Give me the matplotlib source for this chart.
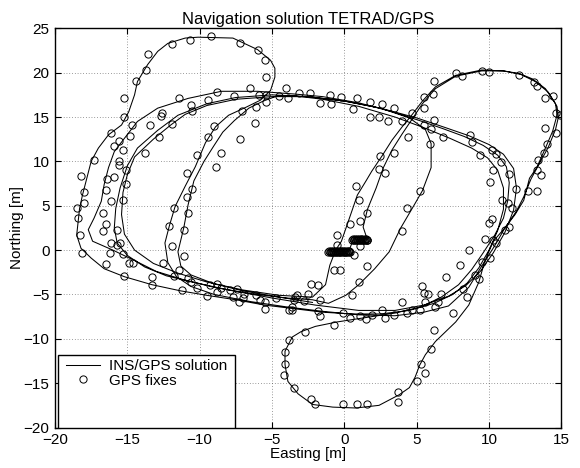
import numpy as np
import matplotlib
matplotlib.use('Agg')
from matplotlib import pyplot as plt
from matplotlib.patches import Rectangle

plt.rcParams['font.family'] = ['Liberation Sans', 'DejaVu Sans']

# INS/GPS solution in three legs [m]
leg1_e = [-1.0, -0.4, 0.3, 0.6, 1.1, 1.6, 1.3, 1.6, 2.2, 2.7,
          3.3, 4.0, 4.7, 5.4, 6.3, 7.7, 9.5, 11.0, 12.2, 13.2,
          14.1, 14.7, 14.8, 14.6, 14.1, 13.5, 12.9, 12.4, 11.9, 11.2,
          10.3, 9.7, 9.3, 8.6, 7.7, 6.3, 5.6, 5.2, 4.9, 4.5,
          3.8, 2.4, 0.8, -0.8, -2.2, -3.2, -3.9, -4.1, -4.1, -3.6,
          -3.0, -2.0, -0.5, 1.5, 3.5, 5.3, 6.7, 7.9, 8.8, 9.6,
          10.4, 11.0, 11.3, 11.4, 11.2, 10.6, 9.6, 8.3, 6.8, 5.2,
          3.3, 1.0, -1.5, -3.5, -6.0, -8.5, -10.8, -12.9, -14.3, -15.2,
          -15.9, -16.3, -16.6, -16.8, -17.3, -17.7, -17.4, -16.0, -14.1, -13.0,
          -11.2, -9.0, -6.5, -4.0, -2.2]
leg1_n = [-0.2, -0.2, -0.2, 1.15, 1.15, 1.15, 2.6, 4.6, 7.0, 9.3,
          11.3, 13.1, 14.8, 16.5, 18.2, 19.6, 20.2, 20.2, 19.8, 19.0,
          17.8, 16.2, 15.0, 13.6, 11.6, 9.8, 8.0, 6.0, 4.4, 2.7,
          1.0, -1.3, -3.6, -6.2, -8.1, -10.3, -11.8, -13.0, -14.3, -15.5,
          -16.3, -17.5, -17.8, -17.7, -17.4, -16.2, -14.8, -12.9, -11.4, -9.8,
          -9.2, -8.6, -8.1, -7.6, -7.1, -6.4, -5.3, -3.9, -2.2, -0.3,
          1.7, 3.6, 5.6, 7.6, 9.4, 10.7, 11.8, 12.8, 13.7, 14.6,
          15.6, 16.6, 17.3, 17.6, 17.9, 17.9, 17.1, 16.0, 14.5, 12.6,
          11.1, 9.3, 7.4, 5.5, 3.6, 2.3, 1.0, 0.0, -1.5, -2.4,
          -3.3, -4.2, -4.9, -5.4, -5.6]

leg2_e = [-1.1, 0.1, 1.0, 2.1, 3.1, 3.9, 4.8, 5.4, 6.0, 6.0,
          5.6, 4.5, 2.5, 0.0, -2.5, -5.0, -7.5, -9.5, -11.5, -12.9,
          -14.3, -15.0, -15.5, -15.8, -15.9, -15.7, -15.0, -13.8, -12.3, -10.5,
          -8.0, -5.0, -2.0, 1.0, 3.5, 5.5, 7.2, 8.4, 9.4, 10.3,
          11.1, 11.7, 11.9, 11.7, 11.0, 10.0, 8.6, 7.0, 5.0, 2.5,
          0.0, -2.5, -5.0, -7.5, -9.5, -11.0, -12.0, -13.2, -14.5, -15.0,
          -15.3, -15.4, -15.2, -14.5, -13.2, -11.5, -9.5, -7.0, -4.5, -2.2]
leg2_n = [-6.0, -5.1, -3.9, -2.1, -0.2, 2.5, 5.0, 6.7, 9.3, 12.0,
          13.6, 14.9, 16.0, 16.8, 17.3, 17.5, 17.2, 16.5, 15.2, 13.5,
          11.5, 9.5, 7.0, 4.7, 2.5, 0.8, -0.6, -1.9, -2.9, -3.6,
          -4.5, -5.4, -6.2, -6.8, -6.8, -6.2, -5.2, -4.0, -2.4, -0.3,
          2.0, 4.5, 7.0, 9.2, 10.8, 11.9, 12.9, 13.8, 14.9, 16.0,
          16.8, 17.3, 17.3, 17.0, 16.3, 15.3, 14.1, 12.5, 10.5, 8.5,
          6.5, 4.0, 1.8, 0.0, -1.5, -2.6, -3.6, -4.5, -5.1, -5.3]

leg3_e = [-1.3, -1.0, -0.6, -0.2, 0.1, 0.5, 0.9, 1.5, 1.9, 2.6,
          3.3, 4.0, 4.7, 5.4, 6.3, 7.7, 9.5, 11.0, 12.1, 13.0,
          13.9, 14.6, 14.7, 14.4, 13.9, 13.3, 12.8, 12.4, 11.8, 11.1,
          10.4, 9.5, 8.6, 7.2, 5.5, 3.5, 1.0, -1.5, -4.0, -6.5,
          -9.0, -10.6, -11.6, -12.2, -12.4, -12.1, -11.7, -11.0, -10.3, -9.6,
          -8.9, -8.0, -6.8, -5.8, -5.1, -4.8, -4.8, -5.1, -6.0, -7.7,
          -10.1, -11.0, -12.2, -12.9, -13.6, -14.3, -14.5, -14.9, -15.4, -16.3,
          -17.0, -17.5, -17.8, -18.1, -18.3, -18.4, -18.5, -18.2, -17.5, -16.6,
          -15.2, -13.3, -11.3, -9.5, -7.5, -5.5, -3.5, -1.5, 0.5, 2.5,
          4.5, 6.2, 7.5, 8.5, 9.3, 10.0, 10.6, 11.0, 11.0, 10.6,
          9.9, 8.8, 7.3, 5.5, 3.5, 1.0, -1.5, -3.5, -4.6, -5.6,
          -6.6, -7.6, -8.4, -9.0, -9.7, -10.4, -10.8, -11.1, -11.5, -11.3,
          -10.6, -9.0, -7.0, -4.5, -2.2]
leg3_n = [-3.9, -1.7, 0.0, 1.0, 2.4, 4.3, 6.2, 7.8, 8.9, 10.6,
          12.4, 13.9, 15.3, 16.8, 18.4, 19.7, 20.3, 20.2, 19.9, 19.3,
          18.2, 16.5, 15.2, 13.4, 11.5, 9.3, 8.1, 5.6, 4.0, 2.5,
          0.5, -1.8, -4.2, -6.3, -7.0, -7.4, -7.3, -6.9, -6.4, -5.8,
          -5.0, -4.1, -3.0, -1.4, 0.8, 2.7, 4.9, 7.2, 9.4, 12.1,
          13.9, 15.2, 16.1, 16.9, 18.0, 19.5, 20.5, 21.4, 22.6, 23.9,
          24.0, 23.9, 23.3, 22.4, 20.9, 19.0, 17.5, 15.6, 14.1, 13.0,
          11.5, 10.0, 8.1, 6.2, 4.7, 3.2, 1.7, 0.2, -0.9, -2.1,
          -3.0, -3.9, -4.6, -5.1, -5.6, -6.2, -6.6, -7.0, -7.2, -7.2,
          -6.8, -6.0, -5.0, -3.7, -2.0, 0.0, 2.2, 4.6, 7.0, 9.0,
          10.4, 11.5, 12.6, 13.8, 15.0, 16.2, 17.0, 17.4, 17.4, 16.8,
          16.0, 14.6, 13.3, 11.8, 10.0, 7.8, 5.1, 2.5, -0.2, -1.8,
          -2.8, -3.8, -4.6, -5.3, -5.9]

# GPS fixes (easting, northing) [m]
fixes_west = [(-9.2, 24.1), (-10.7, 23.7), (-11.9, 23.2), (-7.2, 23.4), (-6.0, 22.5),
              (-5.5, 21.4), (-13.6, 22.1), (-13.7, 20.3), (-5.4, 19.5), (-14.4, 19.1),
              (-15.2, 17.1), (-15.2, 15.0), (-14.7, 14.1), (-14.8, 12.9), (-16.1, 13.2),
              (-15.6, 12.3), (-15.9, 11.7), (-15.3, 11.3), (-17.3, 10.2), (-15.1, 9.0),
              (-15.6, 10.0), (-15.6, 9.6), (-18.2, 8.3), (-18.0, 6.5), (-18.0, 5.3),
              (-18.5, 4.7), (-18.4, 3.6), (-18.3, 1.7), (-16.4, 8.0), (-16.5, 6.8),
              (-15.9, 8.2), (-15.1, 7.4), (-16.1, 5.5), (-15.3, 5.7), (-16.7, 4.2),
              (-16.5, 2.9), (-16.7, 2.2), (-15.7, 2.3), (-12.7, 15.1), (-12.6, 15.5),
              (-13.4, 14.1), (-11.9, 14.2), (-12.8, 12.7), (-13.8, 10.9), (-11.4, 17.2),
              (-10.6, 16.4), (-10.5, 15.7), (-9.4, 16.9), (-8.8, 17.8), (-7.6, 17.4),
              (-6.5, 18.3), (-5.9, 17.5), (-5.4, 17.5), (-4.0, 18.3), (-3.9, 17.1),
              (-4.5, 17.4), (-5.4, 16.7), (-6.1, 16.1), (-7.1, 15.7), (-6.2, 14.3),
              (-7.2, 12.5), (-9.0, 14.0), (-9.4, 12.7), (-8.5, 11.0), (-8.9, 9.4),
              (-10.2, 10.7), (-10.9, 8.7), (-10.5, 6.9), (-10.9, 6.0), (-10.8, 4.2),
              (-11.8, 4.7), (-12.1, 2.7), (-11.1, 2.3)]
fixes_southwest = [(-18.1, -0.3), (-16.1, 0.8), (-16.2, -0.3), (-15.7, 0.6), (-15.5, 0.8),
                   (-15.3, -0.4), (-14.9, -1.5), (-14.6, -1.4), (-16.5, -1.6), (-15.2, -2.9),
                   (-13.3, -3.0), (-13.3, -3.9), (-12.5, -1.5), (-11.9, 0.5), (-11.1, -0.7),
                   (-11.4, -2.2), (-11.8, -2.9), (-11.2, -4.5), (-10.8, -3.2), (-10.6, -3.6),
                   (-10.2, -4.3), (-9.5, -5.2), (-9.3, -3.9), (-8.8, -3.8), (-8.8, -4.7),
                   (-8.5, -4.3), (-7.9, -4.5), (-7.4, -4.4), (-7.7, -5.3), (-7.3, -5.9),
                   (-6.9, -4.9), (-7.0, -5.4), (-6.1, -5.1), (-5.8, -5.6), (-5.5, -6.6),
                   (-5.5, -5.8), (-4.7, -5.4), (-3.8, -6.8), (-3.4, -5.3), (-3.6, -6.4),
                   (-3.8, -10.1), (-4.1, -11.5), (-4.1, -12.8), (-4.2, -14.1), (-3.5, -15.5)]
fixes_southeast = [(-0.5, 1.7), (-0.5, 0.6), (0.7, -0.6), (1.1, 0.5), (1.6, 1.1),
                   (1.6, -1.8), (-0.7, -2.3), (-0.3, -2.3), (-2.3, -3.8), (-1.8, -3.9),
                   (-3.3, -5.1), (-3.5, -5.6), (-2.8, -5.7), (-2.5, -5.0), (-1.7, -5.6),
                   (0.5, -5.1), (1.0, -3.6), (-3.6, -6.8), (-1.8, -6.9), (-1.7, -7.4),
                   (-0.1, -7.1), (0.4, -7.6), (1.1, -7.4), (1.5, -7.8), (1.9, -7.3),
                   (2.6, -6.8), (2.8, -7.6), (3.4, -7.3), (4.0, -5.8), (4.3, -7.1),
                   (4.7, -6.8), (5.2, -6.8), (5.4, -4.1), (5.5, -4.8), (5.6, -5.8),
                   (5.8, -4.9), (6.3, -6.4), (6.7, -4.9), (6.5, -5.8), (7.0, -3.0),
                   (7.5, -7.1), (8.0, -1.7), (8.2, -4.4), (8.5, -5.3), (8.6, 0.0),
                   (9.0, -2.8), (9.3, -3.3), (9.5, -1.3), (9.7, 1.3), (10.1, -0.9),
                   (10.3, 1.1), (10.5, 0.8), (-0.7, -8.4), (-2.7, -9.2), (6.2, -9.0),
                   (6.0, -11.2), (5.3, -12.8), (5.6, -13.9), (5.0, -14.7), (3.7, -16.0),
                   (3.7, -17.1), (1.6, -17.4), (0.9, -17.4), (-0.1, -17.4), (-2.0, -17.4),
                   (-2.3, -16.8)]
fixes_northeast = [(7.7, 20.0), (8.1, 19.6), (9.5, 20.2), (10.0, 20.1), (12.1, 19.7),
                   (13.1, 19.0), (13.3, 18.5), (13.9, 17.1), (14.4, 17.4), (14.6, 15.4),
                   (14.9, 15.2), (13.9, 13.8), (14.6, 13.2), (14.0, 12.0), (13.8, 10.9),
                   (13.4, 10.2), (13.3, 9.0), (13.6, 8.5), (13.3, 6.7), (12.7, 6.7),
                   (11.9, 6.9), (11.4, 8.6), (10.8, 9.9), (10.5, 10.8), (10.2, 11.3),
                   (10.1, 7.7), (10.3, 9.0), (10.9, 5.7), (11.3, 5.3), (11.6, 4.7),
                   (10.2, 3.5), (10.0, 3.1), (11.1, 2.3), (11.4, 2.6), (9.4, 10.7),
                   (8.7, 13.0), (8.8, 12.2), (6.8, 12.7), (6.2, 14.7), (6.0, 13.6),
                   (5.5, 17.3), (6.1, 17.6), (6.2, 19.1), (5.5, 16.0), (4.7, 15.4),
                   (4.4, 12.8), (4.0, 14.5), (5.5, 14.1), (5.9, 12.0), (5.2, 6.7),
                   (4.3, 4.7), (4.0, 2.2), (3.4, 10.9), (2.5, 10.6), (2.8, 8.7),
                   (2.4, 9.1), (0.8, 7.2), (1.0, 5.7), (1.6, 4.2), (1.1, 3.3),
                   (0.4, 2.9), (-3.1, 17.7), (-2.4, 17.7), (-1.7, 16.6), (-1.0, 17.5),
                   (-0.9, 16.5), (-0.2, 17.3), (0.6, 15.9), (0.9, 17.2), (1.8, 16.7),
                   (1.8, 15.0), (2.4, 15.0), (2.6, 16.5), (3.4, 16.0), (3.0, 14.6)]
# fixes logged while standing still at the start (they pile up into two blobs)
fixes_static = [(-1.10, -0.20), (-1.05, -0.15), (-1.00, -0.20), (-0.95, -0.25), (-0.90, -0.15),
                (-0.85, -0.20), (-0.80, -0.25), (-0.75, -0.15), (-0.70, -0.20), (-0.65, -0.10),
                (-0.60, -0.20), (-0.55, -0.25), (-0.50, -0.15), (-0.45, -0.20), (-0.40, -0.10),
                (-0.35, -0.20), (-0.30, -0.25), (-0.25, -0.15), (-0.20, -0.20), (-0.15, -0.10),
                (-0.10, -0.20), (-0.05, -0.25), (0.00, -0.15), (0.05, -0.20), (0.10, -0.10),
                (0.15, -0.20), (0.20, -0.25), (0.25, -0.15), (0.30, -0.20), (0.35, -0.15),
                (0.40, -0.20),
                (0.55, 1.15), (0.60, 1.20), (0.65, 1.10), (0.70, 1.15), (0.75, 1.25),
                (0.80, 1.15), (0.85, 1.10), (0.90, 1.20), (0.95, 1.15), (1.00, 1.25),
                (1.05, 1.15), (1.10, 1.10), (1.15, 1.20), (1.20, 1.15), (1.25, 1.25),
                (1.30, 1.15), (1.35, 1.10), (1.40, 1.20), (1.45, 1.15), (1.50, 1.20),
                (1.55, 1.15), (1.60, 1.10)]

sol_e = np.concatenate([leg1_e, leg2_e, leg3_e])
sol_n = np.concatenate([leg1_n, leg2_n, leg3_n])
fixes = np.array(fixes_west + fixes_southwest + fixes_southeast + fixes_northeast + fixes_static)

fig = plt.figure(figsize=(5.8, 4.68), dpi=100)
ax = fig.add_axes([0.0948, 0.0865, 0.873, 0.853])

line, = ax.plot(sol_e, sol_n, color='k', lw=0.75)
pts, = ax.plot(fixes[:, 0], fixes[:, 1], 'o', mfc='none', mec='k', mew=0.7, ms=5.2)

ax.set_xlim(-20, 15)
ax.set_ylim(-20, 25)
ax.set_xticks(np.arange(-20, 16, 5))
ax.set_yticks(np.arange(-20, 26, 5))
ax.tick_params(direction='in', top=True, right=True, length=4, width=0.8, labelsize=11)
ax.tick_params(axis='x', pad=4)
ax.tick_params(axis='y', pad=4)
ax.grid(True, color='0.25', lw=0.5, linestyle=(0, (1, 3)))
for s in ax.spines.values():
    s.set_linewidth(1.0)

ax.set_title('Navigation solution TETRAD/GPS', fontsize=12, pad=3)
ax.set_xlabel('Easting [m]', fontsize=11, labelpad=0)
ax.set_ylabel('Northing [m]', fontsize=11, labelpad=0)

# matlab style legend box (taller than its entries)
ax.add_patch(Rectangle((0.0065, 0.0), 0.349, 0.182, transform=ax.transAxes,
                       facecolor='white', edgecolor='k', lw=1.0, zorder=5))
leg = ax.legend([line, pts], ['INS/GPS solution', 'GPS fixes'], loc='upper left',
                bbox_to_anchor=(0.01, 0.187), frameon=False, fontsize=11,
                handlelength=2.2, handletextpad=0.6, borderaxespad=0, labelspacing=0.05)
leg.set_zorder(6)

fig.savefig('out.png', dpi=100)
